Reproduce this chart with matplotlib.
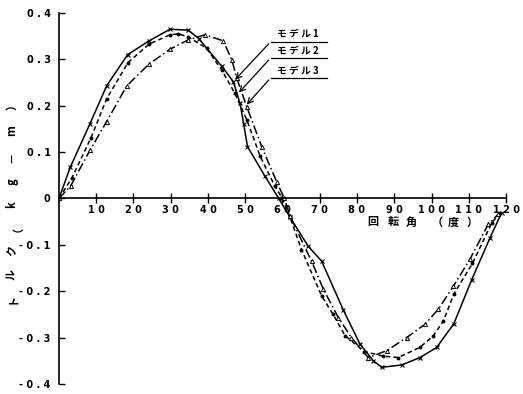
import matplotlib
matplotlib.use("Agg")
import matplotlib.pyplot as plt

plt.rcParams['font.family'] = ['Noto Sans CJK JP', 'DejaVu Sans']

# Model 1 (solid)
m1_x = [0, 3, 8.3, 12.8, 18.4, 24.2, 29.8, 34.7, 37.5, 43.7, 46.8, 48.6, 49.6, 50.6, 55.3, 59,
        62, 66.9, 70.5, 76.3, 80.8, 84.4, 86.6, 92, 96.9, 101.4, 106, 110.8, 115.7, 118.8]
m1_y = [0, 0.067, 0.161, 0.243, 0.310, 0.340, 0.365, 0.363, 0.345, 0.285, 0.252, 0.205, 0.16, 0.112, 0.048, 0,
        -0.04, -0.103, -0.135, -0.240, -0.314, -0.35, -0.364, -0.359, -0.343, -0.321, -0.27, -0.175, -0.085, -0.031]
# Model 2 (dashed)
m2_x = [0, 3.5, 8.6, 12.8, 18.5, 24.2, 29.8, 32, 34.6, 39.6, 43.7, 47.2, 50.4, 54, 58, 60,
        62, 65.1, 70.5, 73.6, 76.8, 82, 87.1, 91, 96.9, 100.5, 103.2, 106, 111, 116.2, 118.4]
m2_y = [0, 0.045, 0.131, 0.215, 0.293, 0.333, 0.353, 0.355, 0.349, 0.324, 0.277, 0.227, 0.17, 0.091, 0.026, 0,
        -0.04, -0.11, -0.21, -0.25, -0.296, -0.33, -0.34, -0.343, -0.321, -0.296, -0.264, -0.206, -0.14, -0.052, -0.032]
# Model 3 (dash-dot)
m3_x = [0, 3.2, 8.3, 12.8, 18.2, 24.2, 29.8, 34.7, 39.2, 44.1, 46.4, 47.7, 50.4, 54.5, 58.5, 60.5,
        62, 67.8, 71, 75, 78.5, 83, 88, 93.3, 98.3, 101.8, 105.9, 110.3, 115.2, 117.9]
m3_y = [0, 0.028, 0.104, 0.166, 0.243, 0.290, 0.322, 0.342, 0.353, 0.340, 0.299, 0.26, 0.198, 0.11, 0.035, 0,
        -0.038, -0.135, -0.196, -0.257, -0.30, -0.343, -0.328, -0.30, -0.271, -0.239, -0.189, -0.131, -0.056, -0.034]

x_ticks = [10, 20, 30, 40, 50, 60, 70, 80, 90, 100, 110, 120]
x_ticklabels = ["1 0", "2 0", "3 0", "4 0", "5 0", "6 0", "7 0", "8 0", "9 0", "1 0 0", "1 1 0", "1 2 0"]
y_ticks = [-0.4, -0.3, -0.2, -0.1, 0, 0.1, 0.2, 0.3, 0.4]
y_ticklabels = ["- 0 . 4", "- 0 . 3", "- 0 . 2", "- 0 . 1", "0", "0 . 1", "0 . 2", "0 . 3", "0 . 4"]
model_names = ["モ デ ル 1", "モ デ ル 2", "モ デ ル 3"]
x_title_chars = ["回", "転", "角", "（", "度", "）"]
y_title_chars = ["ト", "ル", "ク", "（", "k", "g", "－", "m", "）"]

W, H = 523, 394
fig = plt.figure(figsize=(W / 100, H / 100), dpi=100)
ax = fig.add_axes([0.1128, 0.0254, 0.8547, 0.9416])
ax.set_xlim(0, 120)
ax.set_ylim(-0.4, 0.4)

lw = 1.1
ax.plot(m1_x, m1_y, color='black', lw=lw, ls='-', marker='x', ms=2.5, mew=0.8)
ax.plot(m2_x, m2_y, color='black', lw=lw, ls=(0, (3, 2)), marker='o', ms=1.8)
ax.plot(m3_x, m3_y, color='black', lw=lw, ls=(0, (6, 2, 1, 2)), marker='^', ms=3,
        mfc='white', mew=0.7)

for s in ['top', 'right']:
    ax.spines[s].set_visible(False)
ax.spines['bottom'].set_position(('data', 0))
ax.spines['left'].set_linewidth(1.2)
ax.spines['bottom'].set_linewidth(1.2)

ax.set_xticks(x_ticks)
ax.set_xticklabels(x_ticklabels, fontsize=7, fontweight='bold', family=['DejaVu Sans'])
ax.set_yticks(y_ticks)
ax.set_yticklabels(y_ticklabels, fontsize=7, fontweight='bold', family=['DejaVu Sans'])
ax.tick_params(axis='x', direction='inout', length=7, width=1.0, pad=1)
ax.tick_params(axis='y', direction='in', length=4, width=1.0, pad=6)

# x axis title: characters spread out below tick labels
x_title_px = [373, 393, 411, 437, 453, 472]
for ch, px in zip(x_title_chars, x_title_px):
    fig.text(px / W, 1 - 222 / H, ch, fontsize=8, fontweight='bold', ha='center', va='center')

# y axis title: rotated, spread vertically
y_title_py = [298, 274, 250, 226, 205, 182, 157, 131, 104]
for ch, py in zip(y_title_chars, y_title_py):
    fig.text(12 / W, 1 - py / H, ch, rotation=90, fontsize=8, fontweight='bold',
             ha='center', va='center')

# model annotations
ann = [((46.8, 0.252), 0.338), ((47.8, 0.224), 0.303), ((49.9, 0.198), 0.260)]
for name, (tip, ly) in zip(model_names, ann):
    ax.plot([56.8, 72], [ly, ly], color='black', lw=0.9)
    ax.annotate("", xy=tip, xytext=(56.8, ly),
                arrowprops=dict(arrowstyle='->', color='black', lw=0.9))
    ax.text(58.5, ly + 0.006, name, fontsize=7, fontweight='bold', ha='left', va='bottom')

fig.savefig("out.png", dpi=100)
